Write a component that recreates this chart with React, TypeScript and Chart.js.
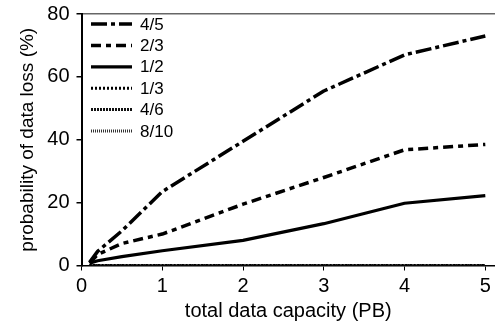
import React, { useEffect, useRef } from "react";
import { Chart, registerables } from "chart.js";

Chart.register(...registerables);

const xValues = [0.1, 0.2, 0.5, 1, 2, 3, 4, 5];
const seriesLabels = ["4/5", "2/3", "1/2", "1/3", "4/6", "8/10"];
const s45 = [1, 4.5, 11, 23.5, 39.5, 55.5, 67, 73];
const s23 = [0.8, 3.5, 7, 10, 19.5, 28, 36.8, 38.5];
const s12 = [0.7, 1.5, 2.8, 4.7, 8, 13.3, 19.8, 22.2];
const s13 = [0, 0, 0, 0, 0, 0, 0, 0];
const s46 = [0, 0, 0, 0, 0, 0, 0, 0];
const s810 = [0, 0, 0, 0, 0, 0, 0, 0];
const xTicks = [0, 1, 2, 3, 4, 5];
const yTicks = [0, 20, 40, 60, 80];

const FONT = "'Liberation Sans', Arial, sans-serif";

const legendPlugin = {
  id: "insideLegend",
  afterDatasetsDraw(chart: any) {
    const { ctx, chartArea } = chart;
    const x0 = Math.round(chartArea.left + 9);
    const y0 = chartArea.top + 10;
    const step = 21.4;
    ctx.save();
    chart.data.datasets.forEach((ds: any, i: number) => {
      const y = y0 + i * step;
      ctx.beginPath();
      ctx.setLineDash(ds.borderDash || []);
      ctx.lineWidth = ds.borderWidth;
      ctx.strokeStyle = ds.borderColor;
      ctx.lineCap = "butt";
      ctx.moveTo(x0, y);
      ctx.lineTo(x0 + 41, y);
      ctx.stroke();
      ctx.setLineDash([]);
      ctx.fillStyle = "#000";
      ctx.font = `17px ${FONT}`;
      ctx.textBaseline = "middle";
      ctx.textAlign = "left";
      ctx.fillText(ds.label, x0 + 49, y + 1);
    });
    ctx.restore();
  },
};

export default function App() {
  const ref = useRef<HTMLCanvasElement | null>(null);
  useEffect(() => {
    document.body.style.margin = "0";
    const values = [s45, s23, s12, s13, s46, s810];
    const styles = [
      { dash: [16, 4, 4, 4], width: 3.5, color: "#000" },
      { dash: [10, 5, 5, 5], width: 3.5, color: "#000" },
      { dash: [], width: 3.2, color: "#000" },
      { dash: [2, 2], width: 3, color: "#000" },
      { dash: [2, 1], width: 3, color: "#111" },
      { dash: [1, 1], width: 3, color: "#333" },
    ];
    const datasets = seriesLabels.map((label, i) => ({
      label,
      data: xValues.map((x, j) => ({ x, y: values[i][j] })),
      borderColor: styles[i].color,
      backgroundColor: styles[i].color,
      borderWidth: styles[i].width,
      borderDash: styles[i].dash,
      borderJoinStyle: "round",
      pointRadius: 0,
      tension: 0,
      fill: false,
    }));
    const chart = new Chart(ref.current!, {
      type: "line",
      data: { datasets },
      plugins: [legendPlugin],
      options: {
        animation: false,
        responsive: false,
        maintainAspectRatio: false,
        layout: { padding: { left: 16, top: 14, right: 0, bottom: 2 } },
        plugins: {
          tooltip: { enabled: false },
          legend: { display: false },
        },
        scales: {
          x: {
            type: "linear",
            min: 0,
            max: 5.12,
            afterBuildTicks: (s: any) => {
              s.ticks = xTicks.map((v) => ({ value: v }));
            },
            afterFit: (s: any) => {
              s.height = 57.5;
              s.paddingLeft = 0;
              s.paddingRight = 0;
            },
            grid: {
              display: true,
              drawOnChartArea: false,
              drawTicks: true,
              tickLength: 5,
              tickColor: "#000",
              tickWidth: 1,
            },
            border: { display: true, color: "#000", width: 1.5 },
            ticks: {
              color: "#000",
              padding: 4,
              maxRotation: 0,
              font: { family: FONT, size: 20 },
            },
            title: {
              display: true,
              text: "total data capacity (PB)",
              color: "#000",
              padding: 0,
              font: { family: FONT, size: 20 },
            },
          },
          y: {
            type: "linear",
            min: 0,
            max: 80,
            afterBuildTicks: (s: any) => {
              s.ticks = yTicks.map((v) => ({ value: v }));
            },
            afterFit: (s: any) => {
              s.width = 65.5;
              s.paddingTop = 0;
              s.paddingBottom = 0;
            },
            grid: {
              display: true,
              drawOnChartArea: true,
              drawTicks: true,
              tickLength: 5,
              tickColor: "#000",
              color: (ctx: any) =>
                ctx.tick && ctx.tick.value === 80 ? "#666" : "rgba(0,0,0,0)",
              lineWidth: 1.5,
            },
            border: { display: true, color: "#000", width: 2 },
            ticks: {
              color: "#000",
              padding: 7,
              font: { family: FONT, size: 20 },
            },
            title: {
              display: true,
              text: "probability of data loss (%)",
              color: "#000",
              padding: 0,
              font: { family: FONT, size: 19 },
            },
          },
        },
      } as any,
    });
    return () => chart.destroy();
  }, []);
  return (
    <div style={{ width: 495, height: 325 }}>
      <canvas ref={ref} width={495} height={325} style={{ display: "block" }} />
    </div>
  );
}
